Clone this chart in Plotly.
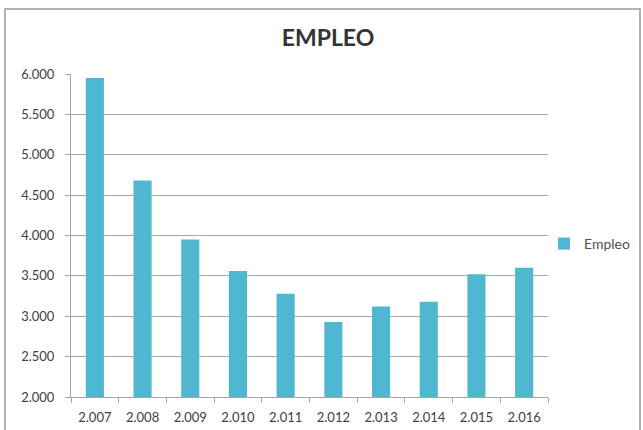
import plotly.graph_objects as go

years = ["2.007", "2.008", "2.009", "2.010", "2.011", "2.012", "2.013", "2.014", "2.015", "2.016"]
empleo = [5950, 4680, 3950, 3560, 3280, 2930, 3120, 3180, 3520, 3600]
y_ticks = [2000, 2500, 3000, 3500, 4000, 4500, 5000, 5500, 6000]
series_name = "Empleo"
title_text = "EMPLEO"

W, H = 643, 430
L, R, T, B = 71, 95, 74, 33
pw, ph = W - L - R, H - T - B

def px_x(x):
    return (x - L) / pw

def px_y(y):
    return (H - B - y) / ph

fig = go.Figure()
fig.add_trace(go.Bar(
    x=years, y=empleo, name=series_name,
    marker=dict(color="#4fb8d0", line=dict(width=0)),
    showlegend=True,
))

fig.update_layout(
    width=W, height=H,
    margin=dict(l=L, r=R, t=T, b=B, autoexpand=False),
    paper_bgcolor="white", plot_bgcolor="white",
    separators=",.",
    bargap=0.62,
    font=dict(family="Lato", size=13, color="#404040"),
    title=dict(text="<b>" + title_text + "</b>", x=328 / W, xref="container", xanchor="center",
               y=1 - 38 / H, yref="container", yanchor="middle",
               font=dict(family="Lato", size=23, color="#333333")),
    showlegend=True,
    legend=dict(x=px_x(544), y=px_y(244), xanchor="left", yanchor="middle",
                font=dict(family="Lato", size=14, color="#505050"),
                bgcolor="rgba(0,0,0,0)", itemwidth=30),
    xaxis=dict(type="category", showline=True, linecolor="#a6a6a6", linewidth=1,
               ticks="outside", tickson="boundaries", ticklen=5, tickcolor="#a6a6a6",
               ticklabelstandoff=8,
               showgrid=False, tickfont=dict(size=13, color="#404040")),
    yaxis=dict(range=[2000, 6000], tickvals=y_ticks, tickformat=",d",
               showline=True, linecolor="#a6a6a6", linewidth=1,
               ticks="outside", ticklen=5, tickcolor="#a6a6a6",
               ticklabelstandoff=8,
               showgrid=True, gridcolor="#a6a6a6", gridwidth=1,
               zeroline=False, tickfont=dict(size=13, color="#404040")),
    shapes=[dict(type="rect", xref="paper", yref="paper",
                 x0=px_x(5), x1=px_x(640), y0=px_y(433), y1=px_y(9),
                 line=dict(color="#9a9a9a", width=1.5), layer="below")],
)

fig.write_html("out.html", config={"displayModeBar": False},
               post_script="document.body.style.margin='0';document.body.style.padding='0';")
